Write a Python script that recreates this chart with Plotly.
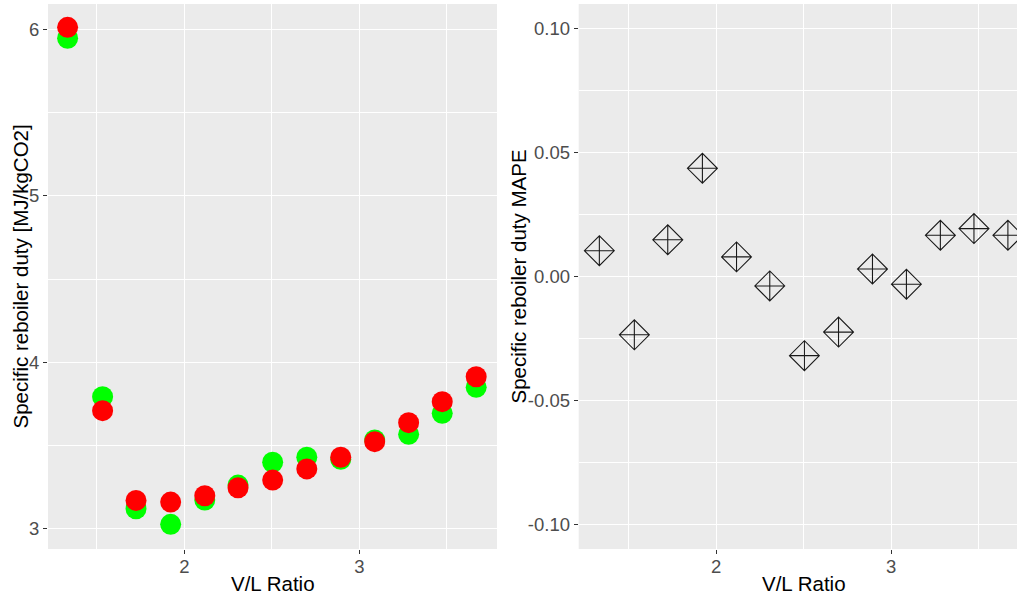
import plotly.graph_objects as go

# ---- data ----
vl_ratio = [1.333, 1.533, 1.724, 1.922, 2.117, 2.307, 2.505, 2.700, 2.894, 3.088, 3.282, 3.474, 3.668]
duty_green = [5.946, 3.793, 3.120, 3.026, 3.172, 3.262, 3.399, 3.429, 3.417, 3.533, 3.567, 3.693, 3.849]
duty_red = [6.012, 3.709, 3.170, 3.160, 3.198, 3.246, 3.292, 3.359, 3.429, 3.523, 3.637, 3.763, 3.913]
mape = [0.0104, -0.0235, 0.0148, 0.0436, 0.0079, -0.0038, -0.0319, -0.0224, 0.0030, -0.0031, 0.0166, 0.0193, 0.0166]

x_tickvals = [2, 3]
x_ticktext = ["2", "3"]
y1_tickvals = [3, 4, 5, 6]
y1_ticktext = ["3", "4", "5", "6"]
y2_tickvals = [-0.10, -0.05, 0.0, 0.05, 0.10]
y2_ticktext = ["-0.10", "-0.05", "0.00", "0.05", "0.10"]

W, H = 1017, 598
FONT = "Liberation Sans, Arial, sans-serif"
TICKFONT = dict(family=FONT, size=18.5, color="#4D4D4D")
TITLEFONT = dict(family=FONT, size=20.5, color="#000000")

fig = go.Figure()
fig.add_trace(go.Scatter(x=vl_ratio, y=duty_green, mode="markers",
                         marker=dict(color="#00FF00", size=21, line=dict(width=0)),
                         xaxis="x", yaxis="y", showlegend=False))
fig.add_trace(go.Scatter(x=vl_ratio, y=duty_red, mode="markers",
                         marker=dict(color="#FF0000", size=21, line=dict(width=0)),
                         xaxis="x", yaxis="y", showlegend=False))
fig.add_trace(go.Scatter(x=vl_ratio, y=mape, mode="markers",
                         marker=dict(symbol="diamond-cross-open", size=23, color="#1A1A1A",
                                     line=dict(width=1.1, color="#1A1A1A")),
                         xaxis="x2", yaxis="y2", showlegend=False))

# panel geometry in pixels
L1, R1 = 48, 497
L2, R2 = 578.7, 1017
TOP, BOT = 4, 549

common_axis = dict(showgrid=True, gridcolor="#FFFFFF", gridwidth=1.2, zeroline=False,
                   showline=False, ticks="outside", ticklen=4, tickwidth=1,
                   tickcolor="#333333", tickfont=TICKFONT, automargin=False,
                   layer="below traces")

ydom = [(H - BOT) / H, (H - TOP) / H]
minor_x = dict(dtick=0.5, tick0=0, showgrid=True, gridcolor="#FFFFFF", gridwidth=0.6, ticks="")

fig.update_layout(
    width=W, height=H,
    margin=dict(l=0, r=0, t=0, b=0),
    paper_bgcolor="#FFFFFF",
    plot_bgcolor="#EBEBEB",
    xaxis=dict(common_axis, domain=[L1 / W, R1 / W], range=[1.221, 3.787],
               tickvals=x_tickvals, ticktext=x_ticktext, anchor="y",
               ticklabelstandoff=-3, minor=minor_x),
    yaxis=dict(common_axis, domain=ydom, range=[2.878, 6.152],
               tickvals=y1_tickvals, ticktext=y1_ticktext, anchor="x",
               minor=dict(dtick=0.5, tick0=0, showgrid=True, gridcolor="#FFFFFF", gridwidth=0.6, ticks="")),
    xaxis2=dict(common_axis, domain=[L2 / W, R2 / W], range=[1.215, 3.72],
                tickvals=x_tickvals, ticktext=x_ticktext, anchor="y2",
                ticklabelstandoff=-3, minor=minor_x),
    yaxis2=dict(common_axis, domain=ydom, range=[-0.1098, 0.1098],
                tickvals=y2_tickvals, ticktext=y2_ticktext, anchor="x2",
                minor=dict(dtick=0.025, tick0=0, showgrid=True, gridcolor="#FFFFFF", gridwidth=0.6, ticks="")),
)

# axis titles
ymid = 1 - ((TOP + BOT) / 2) / H
fig.add_annotation(text="V/L Ratio", x=((L1 + R1) / 2) / W, y=1 - 583 / H, xref="paper", yref="paper",
                   showarrow=False, font=TITLEFONT, xanchor="center", yanchor="middle")
fig.add_annotation(text="V/L Ratio", x=((L2 + 1029) / 2) / W, y=1 - 583 / H, xref="paper", yref="paper",
                   showarrow=False, font=TITLEFONT, xanchor="center", yanchor="middle")
fig.add_annotation(text="Specific reboiler duty [MJ/kgCO2]", x=20 / W, y=ymid, xref="paper", yref="paper",
                   showarrow=False, font=TITLEFONT, textangle=-90, xanchor="center", yanchor="middle")
fig.add_annotation(text="Specific reboiler duty MAPE", x=518 / W, y=ymid, xref="paper", yref="paper",
                   showarrow=False, font=TITLEFONT, textangle=-90, xanchor="center", yanchor="middle")

fig.write_html("out.html")
